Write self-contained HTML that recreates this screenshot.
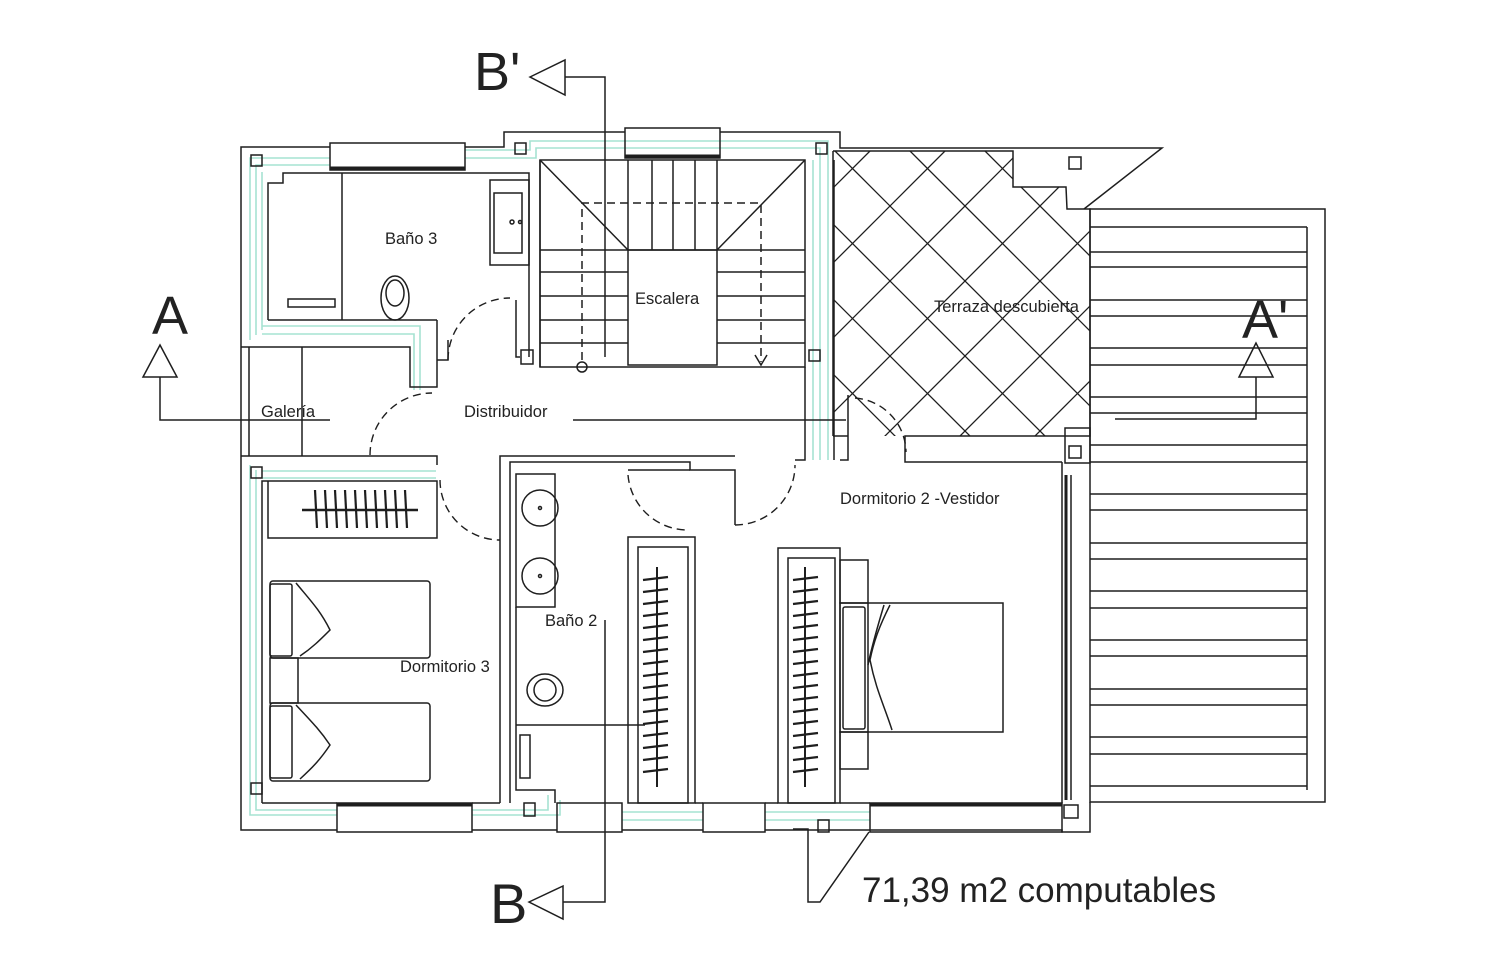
<!DOCTYPE html>
<html><head><meta charset="utf-8"><style>
html,body{margin:0;padding:0;background:#fff;}
svg{display:block;}
text{font-family:"Liberation Sans",Arial,sans-serif;fill:#222;}
</style></head><body>
<svg width="1500" height="979" viewBox="0 0 1500 979" xmlns="http://www.w3.org/2000/svg">
<defs>
<clipPath id="terr"><polygon points="833,151 1013,151 1013,187 1066,187 1067,209 1090,209 1090,436 833,436"/></clipPath>
</defs>
<rect width="1500" height="979" fill="#fff"/>

<g fill="none" stroke="#a6e3d2" stroke-width="1.6">
<polyline points="250,340 250,158 330,158"/>
<polyline points="256,335 256,165 330,165"/>
<polyline points="262,330 262,172"/>
<polyline points="465,150 530,150 530,141 828,141 828,460"/>
<polyline points="465,158 536,158 536,148 820,148 820,460"/>
<polyline points="262,326 420,326 420,390"/>
<polyline points="262,334 414,334 414,390"/>
<polyline points="250,465 250,815 337,815"/>
<polyline points="256,470 256,810 337,810"/>
<polyline points="262,478 436,478"/>
<polyline points="262,471 436,471"/>
<polyline points="472,815 560,815 560,800"/>
<polyline points="472,810 548,810 548,795"/>
<line x1="622" y1="812" x2="703" y2="812"/><line x1="622" y1="820" x2="703" y2="820"/>
<line x1="765" y1="812" x2="870" y2="812"/><line x1="765" y1="820" x2="870" y2="820"/>
<line x1="813" y1="160" x2="813" y2="460"/>
</g>

<g fill="none" stroke="#1e1e1e" stroke-width="1.5">
<polyline points="330,147 241,147 241,830 337,830"/>
<polyline points="465,147 504,147 504,132 625,132"/>
<polyline points="720,132 840,132 840,148 1162,148 1084,209"/>
<line x1="472" y1="830" x2="557" y2="830"/>
<line x1="622" y1="830" x2="703" y2="830"/>
<line x1="765" y1="830" x2="870" y2="830"/>
<polyline points="870,830 1062,830 1062,832 1090,832 1090,802"/>
<rect x="330" y="143" width="135" height="27"/>
<line x1="330" y1="168" x2="465" y2="168" stroke-width="3"/>
<rect x="625" y="128" width="95" height="30"/>
<line x1="625" y1="156" x2="720" y2="156" stroke-width="3"/>
<rect x="337" y="803" width="135" height="29"/>
<line x1="337" y1="805" x2="472" y2="805" stroke-width="3"/>
<rect x="557" y="803" width="65" height="29"/>
<rect x="703" y="803" width="62" height="29"/>
<rect x="870" y="803" width="192" height="29"/>
<line x1="870" y1="805" x2="1062" y2="805" stroke-width="3"/>

<polyline points="268,320 268,183 283,183 283,173 529,173 529,357"/>
<line x1="540" y1="160" x2="540" y2="367"/>
<line x1="268" y1="320" x2="437" y2="320"/>
<polyline points="241,347 410,347 410,387 437,387 437,320"/>
<line x1="342" y1="173" x2="342" y2="320"/>
<rect x="288" y="299" width="47" height="8"/>
<ellipse cx="395" cy="298" rx="14" ry="22"/>
<ellipse cx="395" cy="293" rx="9" ry="13"/>
<rect x="490" y="180" width="39" height="85"/>
<rect x="494" y="193" width="28" height="60"/>
<circle cx="512" cy="222" r="2"/><circle cx="520" cy="222" r="1.5"/>
<polyline points="437,360 448,360 448,340"/>
<polyline points="516,300 516,357 520,357"/>
<rect x="521" y="350" width="12" height="14"/>
<line x1="249" y1="347" x2="249" y2="456"/>
<line x1="302" y1="347" x2="302" y2="456"/>

<rect x="540" y="160" width="265" height="207"/>
<line x1="540" y1="160" x2="628" y2="250"/>
<line x1="805" y1="160" x2="717" y2="250"/>
<line x1="540" y1="250" x2="805" y2="250"/>
<rect x="628" y="250" width="89" height="115"/>
<line x1="652" y1="160" x2="652" y2="250"/><line x1="673" y1="160" x2="673" y2="250"/><line x1="695" y1="160" x2="695" y2="250"/>
<line x1="628" y1="160" x2="628" y2="250"/><line x1="717" y1="160" x2="717" y2="250"/>
<line x1="540" y1="272" x2="628" y2="272"/><line x1="540" y1="296" x2="628" y2="296"/><line x1="540" y1="320" x2="628" y2="320"/><line x1="540" y1="343" x2="628" y2="343"/>
<line x1="717" y1="272" x2="805" y2="272"/><line x1="717" y1="296" x2="805" y2="296"/><line x1="717" y1="320" x2="805" y2="320"/><line x1="717" y1="343" x2="805" y2="343"/>
<g stroke-dasharray="8,5"><polyline points="582,360 582,203 761,203 761,362"/></g>
<circle cx="582" cy="367" r="5"/>
<polyline points="755,355 761,365 767,355"/>

<polyline points="805,367 805,460 795,460"/>
<line x1="834" y1="160" x2="834" y2="460"/>
<polyline points="241,456 437,456 437,465"/>
<polyline points="500,545 500,456 735,456"/>
<polyline points="510,803 510,462 690,462 690,470 735,470 735,525"/>
<polyline points="628,470 690,470"/>

<polyline points="833,151 1013,151 1013,187 1066,187 1067,209 1090,209 1090,436 905,436 905,462 1062,462"/>
<line x1="833" y1="151" x2="833" y2="436"/>
<line x1="833" y1="436" x2="848" y2="436"/>
<polyline points="840,460 848,460 848,395"/>
<g clip-path="url(#terr)" stroke-width="1.3">
<line x1="760" y1="151" x2="1100" y2="491"/><line x1="835" y1="151" x2="1175" y2="491"/><line x1="910" y1="151" x2="1250" y2="491"/><line x1="985" y1="151" x2="1325" y2="491"/><line x1="1060" y1="151" x2="1400" y2="491"/>
<line x1="685" y1="151" x2="1025" y2="491"/><line x1="610" y1="151" x2="950" y2="491"/><line x1="535" y1="151" x2="875" y2="491"/>
<line x1="870" y1="151" x2="530" y2="491"/><line x1="945" y1="151" x2="605" y2="491"/><line x1="1020" y1="151" x2="680" y2="491"/><line x1="1095" y1="151" x2="755" y2="491"/><line x1="1170" y1="151" x2="830" y2="491"/><line x1="1245" y1="151" x2="905" y2="491"/><line x1="1320" y1="151" x2="980" y2="491"/>
</g>
<rect x="1069" y="157" width="12" height="12"/>
<rect x="1065" y="428" width="25" height="35"/>
<rect x="1069" y="446" width="12" height="12"/>

<rect x="1090" y="209" width="235" height="593"/>
<line x1="1307" y1="227" x2="1307" y2="790"/>
<g>
<line x1="1090" y1="227" x2="1307" y2="227"/><line x1="1090" y1="252" x2="1307" y2="252"/><line x1="1090" y1="267" x2="1307" y2="267"/>
<line x1="1090" y1="300" x2="1307" y2="300"/><line x1="1090" y1="316" x2="1307" y2="316"/>
<line x1="1090" y1="348" x2="1307" y2="348"/><line x1="1090" y1="365" x2="1307" y2="365"/>
<line x1="1090" y1="397" x2="1307" y2="397"/><line x1="1090" y1="413" x2="1307" y2="413"/>
<line x1="1090" y1="445" x2="1307" y2="445"/><line x1="1090" y1="462" x2="1307" y2="462"/>
<line x1="1090" y1="494" x2="1307" y2="494"/><line x1="1090" y1="510" x2="1307" y2="510"/>
<line x1="1090" y1="543" x2="1307" y2="543"/><line x1="1090" y1="559" x2="1307" y2="559"/>
<line x1="1090" y1="591" x2="1307" y2="591"/><line x1="1090" y1="608" x2="1307" y2="608"/>
<line x1="1090" y1="640" x2="1307" y2="640"/><line x1="1090" y1="656" x2="1307" y2="656"/>
<line x1="1090" y1="689" x2="1307" y2="689"/><line x1="1090" y1="705" x2="1307" y2="705"/>
<line x1="1090" y1="737" x2="1307" y2="737"/><line x1="1090" y1="754" x2="1307" y2="754"/>
<line x1="1090" y1="786" x2="1307" y2="786"/>
</g>
<line x1="1062" y1="462" x2="1062" y2="803"/>
<line x1="1066" y1="475" x2="1066" y2="800" stroke-width="3"/>
<line x1="1071" y1="475" x2="1071" y2="800"/>
<rect x="1064" y="805" width="14" height="13"/>

<polyline points="262,803 262,481 268,481 268,538 437,538 437,481 262,481" />
<line x1="262" y1="803" x2="337" y2="803"/>
<line x1="472" y1="803" x2="500" y2="803"/>
<line x1="500" y1="545" x2="500" y2="803"/>
<line x1="302" y1="510" x2="418" y2="510" stroke-width="2.5"/>
<g stroke-width="2.2">
<line x1="315" y1="490" x2="317" y2="528"/><line x1="325" y1="490" x2="327" y2="528"/><line x1="335" y1="490" x2="337" y2="528"/><line x1="345" y1="490" x2="347" y2="528"/><line x1="355" y1="490" x2="357" y2="528"/><line x1="365" y1="490" x2="367" y2="528"/><line x1="375" y1="490" x2="377" y2="528"/><line x1="385" y1="490" x2="387" y2="528"/><line x1="395" y1="490" x2="397" y2="528"/><line x1="405" y1="490" x2="407" y2="528"/>
</g>
<rect x="270" y="581" width="160" height="77" rx="3"/>
<rect x="270" y="584" width="22" height="72" rx="2"/>
<path d="M296,583 C310,600 320,610 330,630 C320,640 312,648 300,656"/>
<rect x="270" y="703" width="160" height="78" rx="3"/>
<rect x="270" y="706" width="22" height="72" rx="2"/>
<path d="M296,705 C310,720 320,730 330,745 C320,760 312,768 300,779"/>
<rect x="270" y="658" width="28" height="45"/>

<rect x="516" y="474" width="39" height="133"/>
<circle cx="540" cy="508" r="18"/><circle cx="540" cy="508" r="1.5"/>
<circle cx="540" cy="576" r="18"/><circle cx="540" cy="576" r="1.5"/>
<ellipse cx="545" cy="690" rx="18" ry="16"/>
<ellipse cx="545" cy="690" rx="11" ry="11"/>
<line x1="516" y1="725" x2="645" y2="725"/>
<rect x="520" y="735" width="10" height="43"/>
<polyline points="516,607 516,790 555,790 555,803"/>

<rect x="628" y="537" width="67" height="266"/>
<rect x="638" y="547" width="50" height="256"/>
<line x1="657" y1="567" x2="657" y2="787" stroke-width="2"/>
<rect x="778" y="548" width="62" height="255"/>
<rect x="788" y="558" width="47" height="245"/>
<line x1="805" y1="567" x2="805" y2="787" stroke-width="2"/>
<g stroke-width="2.2">
<path d="M643,580l25,-3M643,592l25,-3M643,604l25,-3M643,616l25,-3M643,628l25,-3M643,640l25,-3M643,652l25,-3M643,664l25,-3M643,676l25,-3M643,688l25,-3M643,700l25,-3M643,712l25,-3M643,724l25,-3M643,736l25,-3M643,748l25,-3M643,760l25,-3M643,772l25,-3"/>
<path d="M793,580l25,-3M793,592l25,-3M793,604l25,-3M793,616l25,-3M793,628l25,-3M793,640l25,-3M793,652l25,-3M793,664l25,-3M793,676l25,-3M793,688l25,-3M793,700l25,-3M793,712l25,-3M793,724l25,-3M793,736l25,-3M793,748l25,-3M793,760l25,-3M793,772l25,-3"/>
</g>
<rect x="840" y="560" width="28" height="43"/>
<rect x="840" y="732" width="28" height="37"/>
<rect x="840" y="603" width="163" height="129"/>
<rect x="843" y="607" width="22" height="122" rx="2"/>
<line x1="868" y1="603" x2="868" y2="732"/>
<path d="M890,605 C880,625 874,640 870,660 C876,690 884,705 892,730"/>
<path d="M884,605 C878,625 872,645 868,665"/>
<line x1="840" y1="803" x2="870" y2="803"/>
<line x1="695" y1="803" x2="703" y2="803"/><line x1="765" y1="803" x2="778" y2="803"/>

<rect x="251" y="155" width="11" height="11"/>
<rect x="515" y="143" width="11" height="11"/>
<rect x="816" y="143" width="11" height="11"/>
<rect x="809" y="350" width="11" height="11"/>
<rect x="251" y="467" width="11" height="11"/>
<rect x="251" y="783" width="11" height="11"/>
<rect x="524" y="803" width="11" height="13"/>
<rect x="818" y="820" width="11" height="12"/>

<g stroke-dasharray="8,5" stroke-width="1.4">
<path d="M448,360 A62,62 0 0 1 510,298"/>
<path d="M370,455 A62,62 0 0 1 432,393"/>
<path d="M440,480 A60,60 0 0 0 500,540"/>
<path d="M628,475 A60,60 0 0 0 688,530"/>
<path d="M735,525 A60,60 0 0 0 795,465"/>
<path d="M855,398 A55,55 0 0 1 906,452"/>
</g>

<polygon points="160,345 143,377 177,377"/>
<polyline points="160,377 160,420 330,420"/>
<line x1="573" y1="420" x2="846" y2="420"/>
<polygon points="1256,343 1239,377 1273,377"/>
<polyline points="1256,377 1256,419 1115,419"/>
<polygon points="530,77 565,60 565,95"/>
<polyline points="565,77 605,77 605,357"/>
<polygon points="529,902 563,886 563,919"/>
<polyline points="563,902 605,902 605,620"/>
<polyline points="793,829 808,829 808,902 820,902 869,832"/>
</g>

<text x="385" y="244" font-size="16.5">Baño 3</text>
<text x="635" y="304" font-size="16.5">Escalera</text>
<text x="934" y="312" font-size="16.5">Terraza descubierta</text>
<text x="261" y="417" font-size="16.5">Galería</text>
<text x="464" y="417" font-size="16.5">Distribuidor</text>
<text x="840" y="504" font-size="16.5">Dormitorio 2 -Vestidor</text>
<text x="545" y="626" font-size="16.5">Baño 2</text>
<text x="400" y="672" font-size="16.5">Dormitorio 3</text>
<text x="152" y="334" font-size="54">A</text>
<text x="1242" y="338" font-size="54">A'</text>
<text x="474" y="90" font-size="54">B'</text>
<text x="490" y="923" font-size="56">B</text>
<text x="862" y="902" font-size="35">71,39 m2 computables</text>
</svg>
</body></html>
